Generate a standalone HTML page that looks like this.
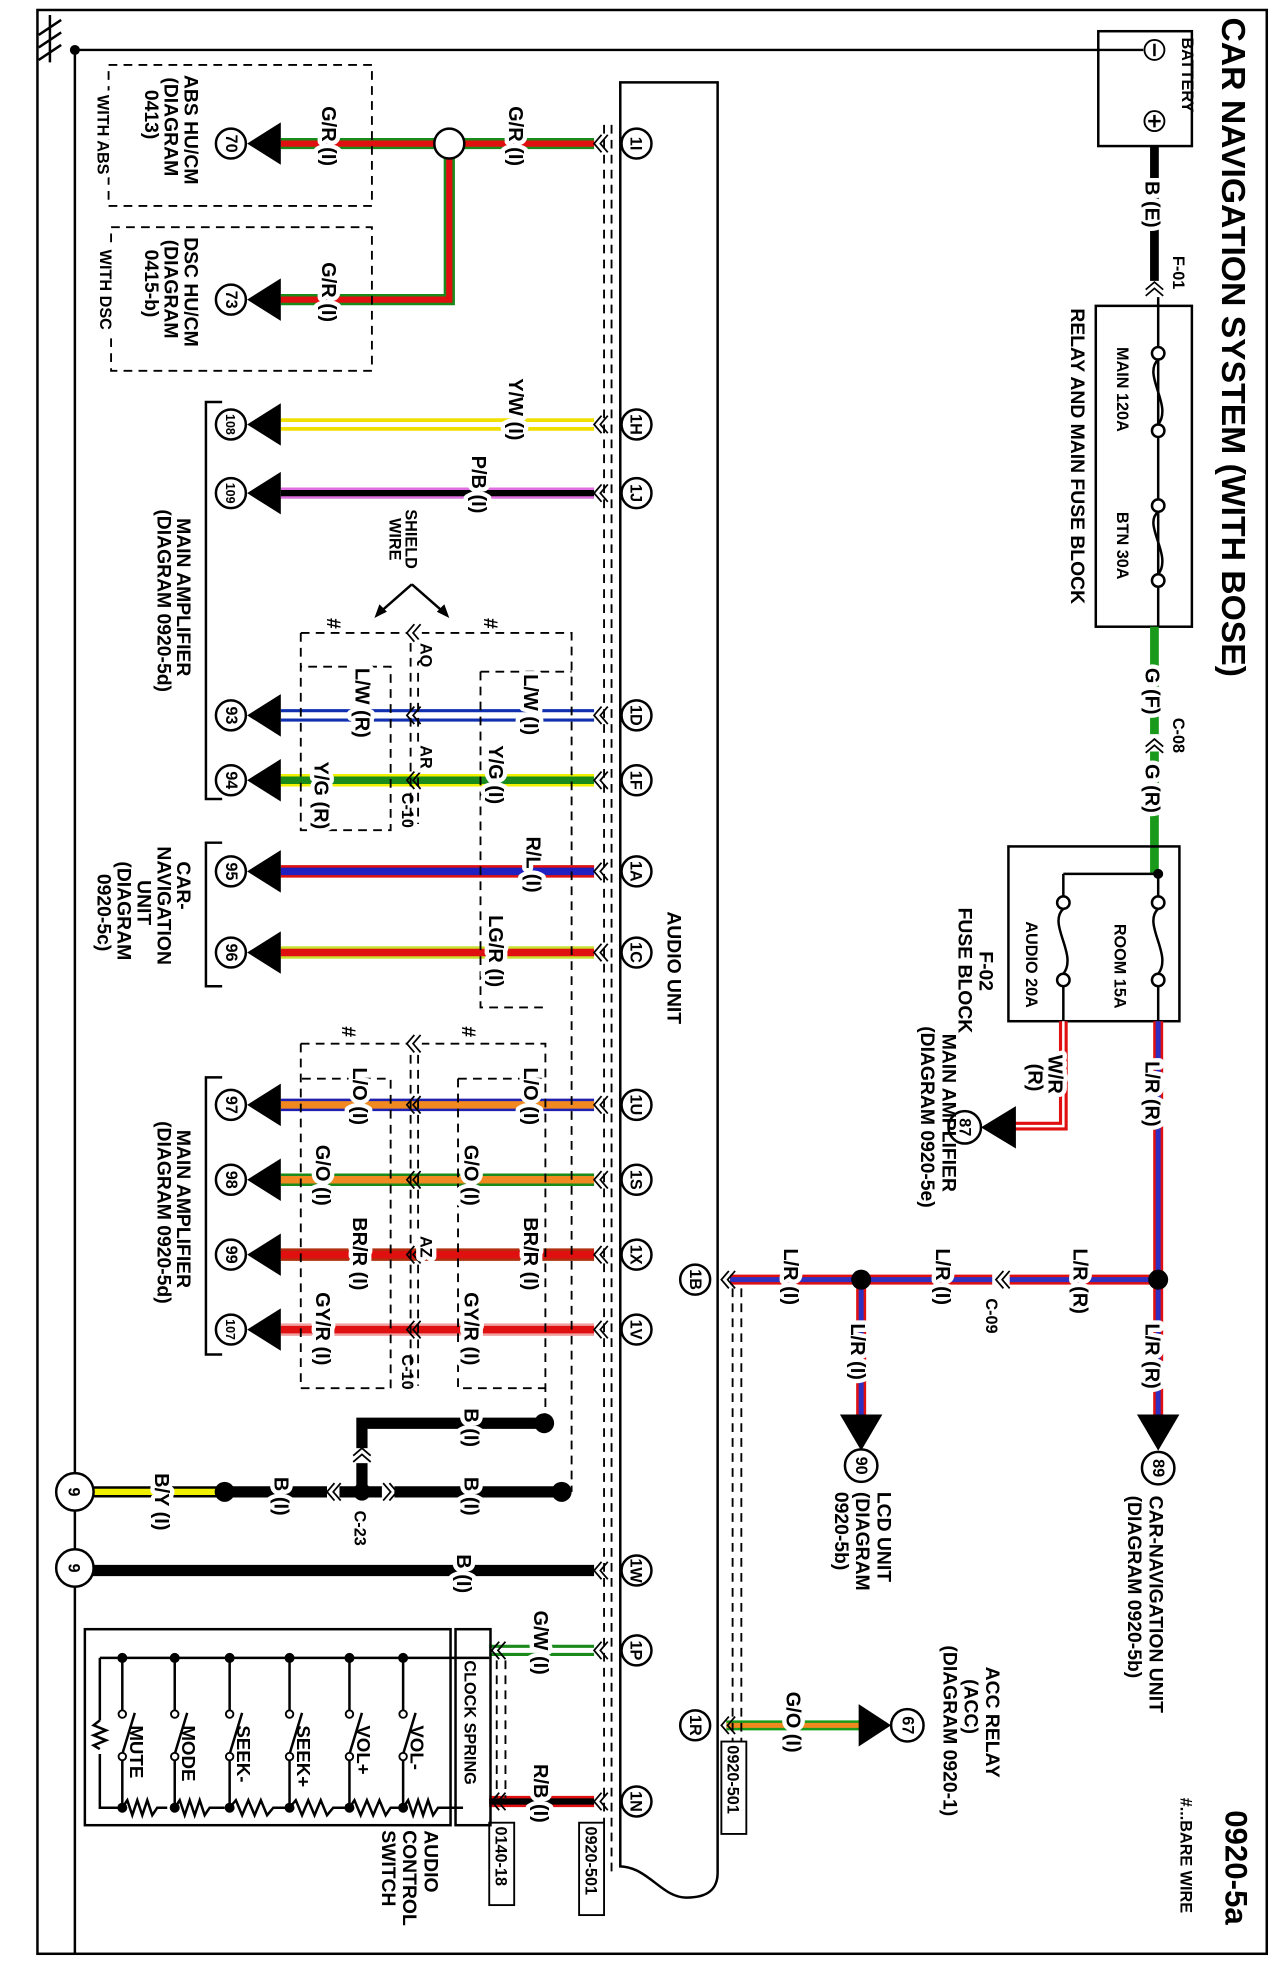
<!DOCTYPE html>
<html><head><meta charset="utf-8"><style>
html,body{margin:0;padding:0;background:#fff}
svg{display:block}
text{font-family:"Liberation Sans",sans-serif;font-weight:bold;fill:#000}
.lb{font-size:16px;paint-order:stroke;stroke:#fff;stroke-width:7px;stroke-linejoin:round}
.t{font-size:15.5px}
.n{font-size:13px;text-anchor:middle}
.k{fill:none;stroke:#000;stroke-width:2}
.d{fill:none;stroke:#000;stroke-width:1.5;stroke-dasharray:7 5}
.ch{fill:none;stroke:#000;stroke-width:1.4}
</style></head><body>
<svg width="1278" height="1980" viewBox="0 0 1024 1586" preserveAspectRatio="none" xmlns="http://www.w3.org/2000/svg">
<defs>
<g id="chev"><path class="ch" d="M4,-7 L-2,0 L4,7 M9,-7 L3,0 L9,7"/></g>
<g id="arrL"><path d="M-2,0 L25,-17 L25,17 Z" fill="#000"/></g>
</defs>
<rect x="30" y="8" width="985" height="1557" fill="none" stroke="#000" stroke-width="2"/>
<path class="k" d="M60,40 H916 M60,40 V1565"/>
<circle cx="60" cy="40" r="4"/>
<path class="k" d="M40,12 V50 M31,28 L49,16 M31,38 L49,26 M31,48 L49,36"/>
<text transform="translate(979,14) rotate(90)" style="font-size:27px;font-weight:bold">CAR NAVIGATION SYSTEM (WITH BOSE)</text>
<text transform="translate(982,1450) rotate(90)" style="font-size:25px;font-weight:bold">0920-5a</text>
<text transform="translate(946,1440) rotate(90)" class="t" style="font-size:13px">#...BARE WIRE</text>
<rect x="880" y="25" width="75" height="92" class="k"/>
<text transform="translate(947,30) rotate(90)" class="t" style="font-size:13px">BATTERY</text>
<circle cx="925" cy="40" r="8" fill="#fff" stroke="#000" stroke-width="1.5"/><path class="k" d="M925,35 V45"/>
<circle cx="925" cy="97" r="8" fill="#fff" stroke="#000" stroke-width="1.5"/><path class="k" d="M925,92 V102 M920,97 H930"/>
<path d="M925,117 V225" stroke="#000" stroke-width="7"/>
<text transform="translate(918,145) rotate(90)" class="lb">B (E)</text>
<use href="#chev" transform="translate(925,228) rotate(90)"/>
<text transform="translate(940,205) rotate(90)" class="t" style="font-size:13px">F-01</text>
<rect x="878" y="245" width="77" height="257" class="k"/>
<path class="k" d="M928,238 V278 M928,288 V340 M928,350 V400 M928,410 V460 M928,470 V502"/>
<circle cx="928" cy="283" r="5" class="k"/><circle cx="928" cy="345" r="5" class="k"/>
<circle cx="928" cy="405" r="5" class="k"/><circle cx="928" cy="465" r="5" class="k"/>
<path class="k" d="M928,288 C915,300 940,325 928,340 M928,410 C915,420 940,445 928,460"/>
<text transform="translate(895,278) rotate(90)" class="t" style="font-size:13px">MAIN 120A</text>
<text transform="translate(895,410) rotate(90)" class="t" style="font-size:13px">BTN 30A</text>
<text transform="translate(858,247) rotate(90)" class="t">RELAY AND MAIN FUSE BLOCK</text>
<path d="M925,502 V588 M925,602 V700" stroke="#1a9a1a" stroke-width="7"/>
<text transform="translate(918,535) rotate(90)" class="lb">G (F)</text>
<use href="#chev" transform="translate(925,594) rotate(90)"/>
<text transform="translate(940,575) rotate(90)" class="t" style="font-size:13px">C-08</text>
<text transform="translate(918,612) rotate(90)" class="lb">G (R)</text>
<rect x="808" y="678" width="137" height="140" class="k"/>
<path class="k" d="M928,700 V718 M928,790 V818 M852,700 H928 M852,700 V718 M852,790 V818"/>
<circle cx="928" cy="700" r="4"/>
<circle cx="928" cy="723" r="5" class="k"/><circle cx="928" cy="785" r="5" class="k"/>
<circle cx="852" cy="723" r="5" class="k"/><circle cx="852" cy="785" r="5" class="k"/>
<path class="k" d="M928,728 C915,740 940,765 928,780 M852,728 C839,740 864,765 852,780"/>
<text transform="translate(893,740) rotate(90)" class="t" style="font-size:13px">ROOM 15A</text>
<text transform="translate(822,738) rotate(90)" class="t" style="font-size:13px">AUDIO 20A</text>
<text transform="translate(785,762) rotate(90)" class="t">F-02</text>
<text transform="translate(768,727) rotate(90)" class="t">FUSE BLOCK</text>
<path d="M928,818 V1140 M928,1025 H585 M690,1025 V1140" stroke="#e01010" stroke-width="8" fill="none"/>
<path d="M928,818 V1140 M928,1025 H585 M690,1025 V1140" stroke="#3030c0" stroke-width="4" fill="none"/>
<circle cx="928" cy="1025" r="8"/><circle cx="690" cy="1025" r="8"/>
<text transform="translate(918,850) rotate(90)" class="lb">L/R (R)</text>
<text transform="translate(918,1060) rotate(90)" class="lb">L/R (R)</text>
<text transform="translate(860,1000) rotate(90)" class="lb">L/R (R)</text>
<text transform="translate(750,1000) rotate(90)" class="lb">L/R (I)</text>
<text transform="translate(628,1000) rotate(90)" class="lb">L/R (I)</text>
<text transform="translate(682,1060) rotate(90)" class="lb">L/R (I)</text>
<rect x="795" y="1015" width="14" height="20" fill="#fff"/>
<use href="#chev" transform="translate(800,1025)"/>
<text transform="translate(790,1040) rotate(90)" class="t" style="font-size:13px">C-09</text>
<path d="M911,1133 L945,1133 L928,1162 Z"/><path d="M673,1133 L707,1133 L690,1162 Z"/>
<circle cx="928" cy="1176" r="13" fill="#fff" stroke="#000" stroke-width="2"/>
<text transform="translate(924,1176) rotate(90)" class="n">89</text>
<circle cx="690" cy="1174" r="13" fill="#fff" stroke="#000" stroke-width="2"/>
<text transform="translate(686,1174) rotate(90)" class="n">90</text>
<text transform="translate(921,1198) rotate(90)" class="t">CAR-NAVIGATION UNIT</text>
<text transform="translate(904,1198) rotate(90)" class="t">(DIAGRAM 0920-5b)</text>
<text transform="translate(703,1195) rotate(90)" class="t">LCD UNIT</text>
<text transform="translate(686,1195) rotate(90)" class="t">(DIAGRAM</text>
<text transform="translate(669,1195) rotate(90)" class="t">0920-5b)</text>
<path d="M852,818 V902 H800" stroke="#e01010" stroke-width="7" fill="none"/>
<path d="M852,818 V902 H800" stroke="#fff" stroke-width="2" fill="none"/>
<text transform="translate(840,845) rotate(90)" class="lb">W/R</text>
<text transform="translate(824,852) rotate(90)" class="lb">(R)</text>
<path d="M786,903 L814,886 L814,920 Z"/>
<circle cx="773" cy="903" r="13" fill="#fff" stroke="#000" stroke-width="2"/>
<text transform="translate(769,903) rotate(90)" class="n">87</text>
<text transform="translate(755,828) rotate(90)" class="t">MAIN AMPLIFIER</text>
<text transform="translate(738,822) rotate(90)" class="t">(DIAGRAM 0920-5e)</text>
<path d="M582,1382 H702" stroke="#1a9a1a" stroke-width="8"/><path d="M582,1382 H702" stroke="#f08a20" stroke-width="4"/>
<text transform="translate(630,1355) rotate(90)" class="lb">G/O (I)</text>
<path d="M714,1382 L688,1365 L688,1399 Z"/>
<circle cx="727" cy="1382" r="13" fill="#fff" stroke="#000" stroke-width="2"/>
<text transform="translate(723,1382) rotate(90)" class="n">67</text>
<text transform="translate(790,1335) rotate(90)" class="t">ACC RELAY</text>
<text transform="translate(773,1345) rotate(90)" class="t">(ACC)</text>
<text transform="translate(756,1318) rotate(90)" class="t">(DIAGRAM 0920-1)</text>
<path class="k" d="M497,66 H575 V1500 C575,1515 565,1520 550,1520 C530,1520 520,1496 497,1495 Z" fill="#fff"/>
<text transform="translate(535,730) rotate(90)" class="t">AUDIO UNIT</text>
<path class="d" d="M484,100 V1500 M490,100 V1500 M587,1032 V1395 M594,1032 V1395" stroke-width="1.2" stroke-dasharray="6 4"/>
<circle cx="557" cy="1025" r="12" fill="#fff" stroke="#000" stroke-width="2"/>
<text transform="translate(553,1025) rotate(90)" class="n">1B</text>
<use href="#chev" transform="translate(580,1025)"/>
<circle cx="557" cy="1382" r="12" fill="#fff" stroke="#000" stroke-width="2"/>
<text transform="translate(553,1382) rotate(90)" class="n">1R</text>
<use href="#chev" transform="translate(580,1382)"/>
<rect x="578" y="1395" width="20" height="74" fill="#fff" stroke="#000" stroke-width="1.5"/>
<text transform="translate(583,1398) rotate(90)" class="t" style="font-size:13px">0920-501</text>
<rect x="464" y="1460" width="20" height="74" fill="#fff" stroke="#000" stroke-width="1.5"/>
<text transform="translate(469,1463) rotate(90)" class="t" style="font-size:13px">0920-501</text>
<rect x="392" y="1460" width="20" height="66" fill="#fff" stroke="#000" stroke-width="1.5"/>
<text transform="translate(397,1463) rotate(90)" class="t" style="font-size:13px">0140-18</text>
<g fill="none">
<path d="M476,115 H225 M360,115 V240 H225" stroke="#1a8a1a" stroke-width="9"/>
<path d="M476,115 H225 M360,115 V240 H225" stroke="#e01010" stroke-width="5"/>
<path d="M476,340 H225" stroke="#f0e000" stroke-width="10"/><path d="M476,340 H225" stroke="#fff" stroke-width="4"/>
<path d="M476,395 H225" stroke="#e070e0" stroke-width="9"/><path d="M476,395 H225" stroke="#000" stroke-width="5"/>
<path d="M476,573 H225" stroke="#1030b0" stroke-width="10"/><path d="M476,573 H225" stroke="#fff" stroke-width="5"/>
<path d="M476,625 H225" stroke="#f0f000" stroke-width="10"/><path d="M476,625 H225" stroke="#1a8a1a" stroke-width="6"/>
<path d="M476,698 H225" stroke="#e01010" stroke-width="10"/><path d="M476,698 H225" stroke="#2020c0" stroke-width="6"/>
<path d="M476,763 H225" stroke="#c8e030" stroke-width="10"/><path d="M476,763 H225" stroke="#e01010" stroke-width="6"/>
<path d="M476,885 H225" stroke="#2020b0" stroke-width="10"/><path d="M476,885 H225" stroke="#f08a20" stroke-width="6"/>
<path d="M476,945 H225" stroke="#1a8a1a" stroke-width="10"/><path d="M476,945 H225" stroke="#f08a20" stroke-width="6"/>
<path d="M476,1005 H225" stroke="#b03010" stroke-width="10"/><path d="M476,1005 H225" stroke="#e01010" stroke-width="6"/>
<path d="M476,1065 H225" stroke="#f0a0a0" stroke-width="10"/><path d="M476,1065 H225" stroke="#e01010" stroke-width="6"/>
<path d="M476,1258 H74" stroke="#000" stroke-width="9"/>
<path d="M180,1195 H450 M290,1195 V1140 H436" stroke="#000" stroke-width="9"/>
<path d="M74,1195 H180" stroke="#000" stroke-width="9"/><path d="M74,1195 H180" stroke="#f0f000" stroke-width="5"/>
<path d="M476,1322 H392" stroke="#1a8a1a" stroke-width="9"/><path d="M476,1322 H392" stroke="#fff" stroke-width="4"/>
<path d="M476,1443 H392" stroke="#e01010" stroke-width="9"/><path d="M476,1443 H392" stroke="#000" stroke-width="5"/>
</g>
<circle cx="360" cy="115" r="12" fill="#fff" stroke="#000" stroke-width="2"/>
<circle cx="180" cy="1195" r="8"/><circle cx="450" cy="1195" r="8"/><circle cx="290" cy="1195" r="7"/><circle cx="436" cy="1140" r="8"/>
<g>
<use href="#chev" transform="translate(478,115)"/><use href="#chev" transform="translate(478,340)"/>
<use href="#chev" transform="translate(478,395)"/><use href="#chev" transform="translate(478,573)"/>
<use href="#chev" transform="translate(478,625)"/><use href="#chev" transform="translate(478,698)"/>
<use href="#chev" transform="translate(478,763)"/><use href="#chev" transform="translate(478,885)"/>
<use href="#chev" transform="translate(478,945)"/><use href="#chev" transform="translate(478,1005)"/>
<use href="#chev" transform="translate(478,1065)"/><use href="#chev" transform="translate(478,1258)"/>
<use href="#chev" transform="translate(478,1322)"/><use href="#chev" transform="translate(478,1443)"/>
<use href="#chev" transform="translate(396,1322)"/><use href="#chev" transform="translate(396,1443)"/>
</g>
<g fill="#fff" stroke="#000" stroke-width="2">
<circle cx="510" cy="115" r="12"/><circle cx="510" cy="340" r="12"/><circle cx="510" cy="395" r="12"/>
<circle cx="510" cy="573" r="12"/><circle cx="510" cy="625" r="12"/><circle cx="510" cy="698" r="12"/>
<circle cx="510" cy="763" r="12"/><circle cx="510" cy="885" r="12"/><circle cx="510" cy="945" r="12"/>
<circle cx="510" cy="1005" r="12"/><circle cx="510" cy="1065" r="12"/><circle cx="510" cy="1258" r="12"/>
<circle cx="510" cy="1322" r="12"/><circle cx="510" cy="1443" r="12"/>
</g>
<g>
<text class="n" transform="translate(505,115) rotate(90)">1I</text><text class="n" transform="translate(505,340) rotate(90)">1H</text>
<text class="n" transform="translate(505,395) rotate(90)">1J</text><text class="n" transform="translate(505,573) rotate(90)">1D</text>
<text class="n" transform="translate(505,625) rotate(90)">1F</text><text class="n" transform="translate(505,698) rotate(90)">1A</text>
<text class="n" transform="translate(505,763) rotate(90)">1C</text><text class="n" transform="translate(505,885) rotate(90)">1U</text>
<text class="n" transform="translate(505,945) rotate(90)">1S</text><text class="n" transform="translate(505,1005) rotate(90)">1X</text>
<text class="n" transform="translate(505,1065) rotate(90)">1V</text><text class="n" transform="translate(505,1258) rotate(90)">1W</text>
<text class="n" transform="translate(505,1322) rotate(90)">1P</text><text class="n" transform="translate(505,1443) rotate(90)">1N</text>
</g>
<g>
<use href="#arrL" transform="translate(200,115)"/><use href="#arrL" transform="translate(200,240)"/>
<use href="#arrL" transform="translate(200,340)"/><use href="#arrL" transform="translate(200,395)"/>
<use href="#arrL" transform="translate(200,573)"/><use href="#arrL" transform="translate(200,625)"/>
<use href="#arrL" transform="translate(200,698)"/><use href="#arrL" transform="translate(200,763)"/>
<use href="#arrL" transform="translate(200,885)"/><use href="#arrL" transform="translate(200,945)"/>
<use href="#arrL" transform="translate(200,1005)"/><use href="#arrL" transform="translate(200,1065)"/>
</g>
<g fill="#fff" stroke="#000" stroke-width="2">
<circle cx="185" cy="115" r="12"/><circle cx="185" cy="240" r="12"/><circle cx="185" cy="340" r="12"/>
<circle cx="185" cy="395" r="12"/><circle cx="185" cy="573" r="12"/><circle cx="185" cy="625" r="12"/>
<circle cx="185" cy="698" r="12"/><circle cx="185" cy="763" r="12"/><circle cx="185" cy="885" r="12"/>
<circle cx="185" cy="945" r="12"/><circle cx="185" cy="1005" r="12"/><circle cx="185" cy="1065" r="12"/>
<circle cx="60" cy="1195" r="15"/><circle cx="60" cy="1256" r="15"/>
</g>
<g>
<text class="n" transform="translate(181,115) rotate(90)">70</text><text class="n" transform="translate(181,240) rotate(90)">73</text>
<text class="n" transform="translate(181,340) rotate(90)" style="font-size:10px">108</text><text class="n" transform="translate(181,395) rotate(90)" style="font-size:10px">109</text>
<text class="n" transform="translate(181,573) rotate(90)">93</text><text class="n" transform="translate(181,625) rotate(90)">94</text>
<text class="n" transform="translate(181,698) rotate(90)">95</text><text class="n" transform="translate(181,763) rotate(90)">96</text>
<text class="n" transform="translate(181,885) rotate(90)">97</text><text class="n" transform="translate(181,945) rotate(90)">98</text>
<text class="n" transform="translate(181,1005) rotate(90)">99</text><text class="n" transform="translate(181,1065) rotate(90)" style="font-size:10px">107</text>
<text class="n" transform="translate(55,1195) rotate(90)">9</text><text class="n" transform="translate(55,1256) rotate(90)">9</text>
</g>
<rect x="87" y="52" width="211" height="113" class="d"/>
<rect x="89" y="182" width="209" height="115" class="d"/>
<text transform="translate(148,60) rotate(90)" class="t">ABS HU/CM</text>
<text transform="translate(132,62) rotate(90)" class="t">(DIAGRAM</text>
<text transform="translate(116,72) rotate(90)" class="t">0413)</text>
<text transform="translate(78,76) rotate(90)" class="lb" style="font-size:13px">WITH ABS</text>
<text transform="translate(148,190) rotate(90)" class="t">DSC HU/CM</text>
<text transform="translate(132,192) rotate(90)" class="t">(DIAGRAM</text>
<text transform="translate(116,200) rotate(90)" class="t">0415-b)</text>
<text transform="translate(80,200) rotate(90)" class="lb" style="font-size:13px">WITH DSC</text>
<text transform="translate(408,85) rotate(90)" class="lb">G/R (I)</text>
<text transform="translate(258,85) rotate(90)" class="lb">G/R (I)</text>
<text transform="translate(258,210) rotate(90)" class="lb">G/R (I)</text>
<text transform="translate(408,303) rotate(90)" class="lb">Y/W (I)</text>
<text transform="translate(378,365) rotate(90)" class="lb">P/B (I)</text>
<path class="k" d="M178,322 H165 V640 H178 M178,675 H165 V790 H178 M178,863 H165 V1085 H178"/>
<text transform="translate(142,415) rotate(90)" class="t">MAIN AMPLIFIER</text>
<text transform="translate(126,408) rotate(90)" class="t">(DIAGRAM 0920-5d)</text>
<text transform="translate(142,690) rotate(90)" class="t">CAR-</text>
<text transform="translate(126,678) rotate(90)" class="t">NAVIGATION</text>
<text transform="translate(110,705) rotate(90)" class="t">UNIT</text>
<text transform="translate(94,690) rotate(90)" class="t">(DIAGRAM</text>
<text transform="translate(78,700) rotate(90)" class="t">0920-5c)</text>
<text transform="translate(142,905) rotate(90)" class="t">MAIN AMPLIFIER</text>
<text transform="translate(126,898) rotate(90)" class="t">(DIAGRAM 0920-5d)</text>
<path class="d" d="M241,507 H458 V1195 M241,507 V665 H313 V534 H241 M385,538 H458 M385,538 V807 H437"/>
<path class="d" d="M241,836 H437 V1140 M241,836 V1112 H313 V864 H241 M367,864 H437 M367,864 V1112 H437"/>
<rect x="326" y="502" width="12" height="10" fill="#fff"/><rect x="326" y="831" width="12" height="10" fill="#fff"/>
<path class="d" d="M329,515 V660 M335,515 V660 M329,845 V1110 M335,845 V1110" stroke-width="1.2" stroke-dasharray="6 4"/>
<use href="#chev" transform="translate(328,507)"/><use href="#chev" transform="translate(328,573)"/>
<use href="#chev" transform="translate(328,625)"/><use href="#chev" transform="translate(328,836)"/>
<use href="#chev" transform="translate(328,885)"/><use href="#chev" transform="translate(328,945)"/>
<use href="#chev" transform="translate(328,1005)"/><use href="#chev" transform="translate(328,1065)"/>
<text transform="translate(262,495) rotate(90)" class="t">#</text><text transform="translate(388,495) rotate(90)" class="t">#</text>
<text transform="translate(274,822) rotate(90)" class="t">#</text><text transform="translate(370,822) rotate(90)" class="t">#</text>
<text transform="translate(337,515) rotate(90)" class="lb" style="font-size:13px">AQ</text>
<text transform="translate(337,597) rotate(90)" class="lb" style="font-size:13px">AR</text>
<text transform="translate(322,635) rotate(90)" class="t" style="font-size:13px">C-10</text>
<text transform="translate(337,990) rotate(90)" class="lb" style="font-size:13px">AZ</text>
<text transform="translate(322,1085) rotate(90)" class="t" style="font-size:13px">C-10</text>
<text transform="translate(325,408) rotate(90)" class="t" style="font-size:13px">SHIELD</text>
<text transform="translate(312,415) rotate(90)" class="t" style="font-size:13px">WIRE</text>
<path class="k" d="M330,468 L305,490 M330,468 L355,490"/>
<path d="M300,495 L304,484 L310,490 Z M360,495 L350,490 L356,484 Z"/>
<text transform="translate(420,540) rotate(90)" class="lb">L/W (I)</text>
<text transform="translate(285,535) rotate(90)" class="lb">L/W (R)</text>
<text transform="translate(392,597) rotate(90)" class="lb">Y/G (I)</text>
<text transform="translate(252,610) rotate(90)" class="lb">Y/G (R)</text>
<text transform="translate(422,670) rotate(90)" class="lb">R/L (I)</text>
<text transform="translate(392,733) rotate(90)" class="lb">LG/R (I)</text>
<text transform="translate(420,855) rotate(90)" class="lb">L/O (I)</text>
<text transform="translate(283,855) rotate(90)" class="lb">L/O (I)</text>
<text transform="translate(372,917) rotate(90)" class="lb">G/O (I)</text>
<text transform="translate(253,917) rotate(90)" class="lb">G/O (I)</text>
<text transform="translate(420,975) rotate(90)" class="lb">BR/R (I)</text>
<text transform="translate(283,975) rotate(90)" class="lb">BR/R (I)</text>
<text transform="translate(372,1035) rotate(90)" class="lb">GY/R (I)</text>
<text transform="translate(253,1035) rotate(90)" class="lb">GY/R (I)</text>
<text transform="translate(372,1128) rotate(90)" class="lb">B (I)</text>
<text transform="translate(372,1183) rotate(90)" class="lb">B (I)</text>
<text transform="translate(220,1183) rotate(90)" class="lb">B (I)</text>
<text transform="translate(124,1180) rotate(90)" class="lb">B/Y (I)</text>
<text transform="translate(366,1245) rotate(90)" class="lb">B (I)</text>
<rect x="262" y="1186" width="10" height="18" fill="#fff"/><rect x="306" y="1186" width="10" height="18" fill="#fff"/>
<rect x="282" y="1160" width="16" height="12" fill="#fff"/>
<use href="#chev" transform="translate(264,1195)"/><use href="#chev" transform="translate(316,1195) rotate(180)"/>
<use href="#chev" transform="translate(290,1162) rotate(90)"/>
<text transform="translate(284,1210) rotate(90)" class="t" style="font-size:13px">C-23</text>
<text transform="translate(428,1290) rotate(90)" class="lb">G/W (I)</text>
<text transform="translate(428,1413) rotate(90)" class="lb">R/B (I)</text>
<rect x="68" y="1305" width="293" height="157" class="k"/>
<rect x="365" y="1305" width="28" height="157" class="k"/>
<text transform="translate(372,1330) rotate(90)" class="t" style="font-size:13px">CLOCK SPRING</text>
<path class="d" d="M398,1330 V1440 M405,1330 V1440" stroke-width="1.2" stroke-dasharray="6 4"/>
<path class="k" d="M80,1328 H392 M80,1328 V1378 M80,1405 V1448 H98"/>
<path class="k" d="M80,1378 l-5,4 l10,4 l-10,4 l10,4 l-10,4 l5,3"/>
<path class="k" d="M98,1448 l4,-6 l4,12 l4,-12 l4,12 l4,-12 l4,12 l4,-6 h8 M140,1448 l4,-6 l4,12 l4,-12 l4,12 l4,-12 l4,12 l4,-6 h12 M184,1448 l5,-6 l5,12 l5,-12 l5,12 l5,-12 l5,12 l5,-6 h13 M232,1448 l5,-6 l5,12 l5,-12 l5,12 l5,-12 l5,12 l5,-6 h13 M280,1448 l4,-6 l5,12 l5,-12 l5,12 l5,-12 l5,12 l4,-6 h10 M323,1448 l4,-6 l4,12 l4,-12 l4,12 l4,-12 l4,12 l4,-6 h20"/>
<g>
<circle cx="98" cy="1328" r="4"/><circle cx="140" cy="1328" r="4"/><circle cx="184" cy="1328" r="4"/><circle cx="232" cy="1328" r="4"/><circle cx="280" cy="1328" r="4"/><circle cx="323" cy="1328" r="4"/>
<circle cx="98" cy="1448" r="4"/><circle cx="140" cy="1448" r="4"/><circle cx="184" cy="1448" r="4"/><circle cx="232" cy="1448" r="4"/><circle cx="280" cy="1448" r="4"/><circle cx="323" cy="1448" r="4"/>
</g>
<path class="k" d="M98,1328 V1370 M140,1328 V1370 M184,1328 V1370 M232,1328 V1370 M280,1328 V1370 M323,1328 V1370 M98,1410 V1448 M140,1410 V1448 M184,1410 V1448 M232,1410 V1448 M280,1410 V1448 M323,1410 V1448 M98,1405 L108,1372 M140,1405 L150,1372 M184,1405 L194,1372 M232,1405 L242,1372 M280,1405 L290,1372 M323,1405 L333,1372"/>
<g fill="#fff" stroke="#000" stroke-width="1.5">
<circle cx="98" cy="1373" r="3"/><circle cx="140" cy="1373" r="3"/><circle cx="184" cy="1373" r="3"/><circle cx="232" cy="1373" r="3"/><circle cx="280" cy="1373" r="3"/><circle cx="323" cy="1373" r="3"/>
<circle cx="98" cy="1407" r="3"/><circle cx="140" cy="1407" r="3"/><circle cx="184" cy="1407" r="3"/><circle cx="232" cy="1407" r="3"/><circle cx="280" cy="1407" r="3"/><circle cx="323" cy="1407" r="3"/>
</g>
<text transform="translate(104,1382) rotate(90)" class="t" style="font-size:15px">MUTE</text>
<text transform="translate(146,1382) rotate(90)" class="t" style="font-size:15px">MODE</text>
<text transform="translate(190,1382) rotate(90)" class="t" style="font-size:15px">SEEK-</text>
<text transform="translate(238,1382) rotate(90)" class="t" style="font-size:15px">SEEK+</text>
<text transform="translate(286,1382) rotate(90)" class="t" style="font-size:15px">VOL+</text>
<text transform="translate(329,1382) rotate(90)" class="t" style="font-size:15px">VOL-</text>
<text transform="translate(340,1466) rotate(90)" class="t">AUDIO</text>
<text transform="translate(323,1466) rotate(90)" class="t">CONTROL</text>
<text transform="translate(306,1466) rotate(90)" class="t">SWITCH</text>
</svg>
</body></html>
